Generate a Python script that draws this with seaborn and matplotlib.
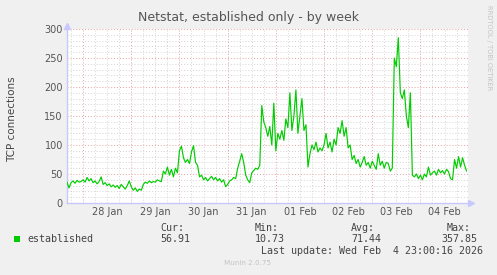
import matplotlib
matplotlib.use("Agg")
import matplotlib.pyplot as plt
from matplotlib.ticker import MultipleLocator
import seaborn as sns
import pandas as pd

# ---- data (hourly samples) ----
start_time = "2026-01-27 16:00"
jan27 = [36, 26, 35, 38, 34, 39, 36, 37]
jan28 = [40, 36, 44, 38, 42, 35, 38, 33, 37, 45, 32, 35, 30, 33, 28, 31, 27, 30, 25, 32, 28, 24, 30, 38]
jan29 = [28, 22, 26, 20, 24, 22, 32, 36, 34, 38, 35, 37, 36, 40, 38, 37, 55, 50, 62, 48, 58, 45, 60, 52]
jan30 = [90, 98, 78, 70, 75, 68, 88, 99, 70, 65, 45, 48, 40, 44, 38, 42, 46, 40, 44, 38, 42, 36, 40, 28]
jan31 = [32, 38, 40, 44, 42, 60, 72, 85, 70, 48, 40, 35, 52, 56, 60, 58, 65, 168, 140, 130, 115, 132, 100, 172]
feb01 = [90, 120, 110, 125, 108, 145, 130, 190, 125, 150, 195, 120, 150, 180, 125, 135, 62, 85, 100, 92, 105, 88, 95, 90]
feb02 = [100, 120, 95, 105, 88, 110, 100, 130, 120, 142, 115, 130, 95, 100, 75, 82, 68, 75, 62, 70, 80, 65, 70, 60]
feb03 = [72, 65, 58, 85, 65, 72, 60, 70, 68, 55, 60, 250, 235, 285, 190, 180, 195, 150, 130, 190, 48, 45, 50, 42]
feb04 = [48, 40, 50, 45, 62, 48, 52, 55, 48, 58, 52, 56, 50, 58, 54, 42, 40, 75, 60, 80, 62, 78, 65, 55]

day_labels = ["28 Jan", "29 Jan", "30 Jan", "31 Jan", "01 Feb", "02 Feb", "03 Feb", "04 Feb"]
y_ticks = [0, 50, 100, 150, 200, 250, 300]
series_name = "established"
stat_names = ["Cur:", "Min:", "Avg:", "Max:"]
stat_values = ["56.91", "10.73", "71.44", "357.85"]
title = "Netstat, established only - by week"
ylabel = "TCP connections"
last_update = "Last update: Wed Feb  4 23:00:16 2026"

values = jan27 + jan28 + jan29 + jan30 + jan31 + feb01 + feb02 + feb03 + feb04
times = pd.date_range(start_time, periods=len(values), freq="h")
df = pd.DataFrame({"time": times, "value": values})

# ---- figure ----
sns.set_style("white")
plt.rcParams["font.family"] = ["DejaVu Sans"]
BG = "#f0f0f0"
fig = plt.figure(figsize=(4.97, 2.75), dpi=100, facecolor=BG)
W, H = 497, 275
ax = fig.add_axes([67 / W, 1 - 203 / H, 401 / W, 174 / H])
ax.set_facecolor("white")

t0 = pd.Timestamp(start_time)
t1 = t0 + pd.Timedelta(hours=199.7)
ax.set_xlim(t0, t1)
ax.set_ylim(0, 300)

# grid
ax.yaxis.set_major_locator(MultipleLocator(50))
ax.yaxis.set_minor_locator(MultipleLocator(10))
ax.grid(which="minor", axis="y", color="#d4d4d4", linestyle=(0, (1, 2)), linewidth=0.7)
ax.grid(which="major", axis="y", color="#e8a0a0", linestyle=(0, (1, 2)), linewidth=0.7)
for t in pd.date_range(t0.ceil("6h"), t1, freq="6h"):
    if t.hour == 0:
        ax.axvline(t, color="#e8a0a0", linestyle=(0, (1, 2)), linewidth=0.7, zorder=0.5)
    else:
        ax.axvline(t, color="#d4d4d4", linestyle=(0, (1, 2)), linewidth=0.7, zorder=0.5)

sns.lineplot(data=df, x="time", y="value", ax=ax, color="#00cc00", linewidth=0.85, zorder=3)

# ticks
noons = pd.date_range("2026-01-28 12:00", periods=len(day_labels), freq="D")
ax.set_xticks(noons)
ax.set_xticklabels(day_labels)
ax.set_yticks(y_ticks)
ax.set_yticklabels([str(v) for v in y_ticks])
ax.tick_params(axis="both", which="both", length=0, labelsize=7, colors="#555555", pad=3)
ax.set_xlabel("")
ax.set_ylabel("")

for s in ["top", "right"]:
    ax.spines[s].set_visible(False)
for s in ["left", "bottom"]:
    ax.spines[s].set_color("#c8c8ff")
    ax.spines[s].set_linewidth(1.0)
ax.plot([1.0 + 3 / 401], [0], marker=">", color="#c8c8ff", markersize=5,
        transform=ax.transAxes, clip_on=False)
ax.plot([0], [1.0 + 3 / 174], marker="^", color="#c8c8ff", markersize=5,
        transform=ax.transAxes, clip_on=False)

# texts
def fx(px):
    return px / W

def fy(py):
    return 1 - py / H

fig.text(fx(248), fy(17), title, ha="center", va="center", fontsize=9, color="#555555")
fig.text(fx(12), fy(119), ylabel, ha="center", va="center", rotation=90, fontsize=7.5, color="#444444")
fig.text(fx(489), fy(5), "RRDTOOL / TOBI OETIKER", ha="center", va="top", rotation=270,
         fontsize=4.8, color="#c4c4c4")

mono = "DejaVu Sans Mono"
fig.patches.append(plt.Rectangle((fx(14), fy(242)), 6 / W, 6 / H, transform=fig.transFigure,
                                 facecolor="#00cc00", edgecolor="none"))
fig.text(fx(27), fy(239), series_name, ha="left", va="center", fontsize=7.2, family=mono, color="#444444")
stat_x = [160, 255, 351, 441]
for name, val, x in zip(stat_names, stat_values, stat_x):
    fig.text(fx(x + (6 if name == "Max:" else 0)), fy(228), name, ha="left", va="center",
             fontsize=7.2, family=mono, color="#444444")
    fig.text(fx(x), fy(239), val, ha="left", va="center", fontsize=7.2, family=mono, color="#444444")
fig.text(fx(261), fy(251), last_update, ha="left", va="center", fontsize=7.2, family=mono, color="#444444")
fig.text(fx(248), fy(263), "Munin 2.0.75", ha="center", va="center", fontsize=5.2, color="#c4c4c4")

fig.savefig("out.png", dpi=100, facecolor=BG)
